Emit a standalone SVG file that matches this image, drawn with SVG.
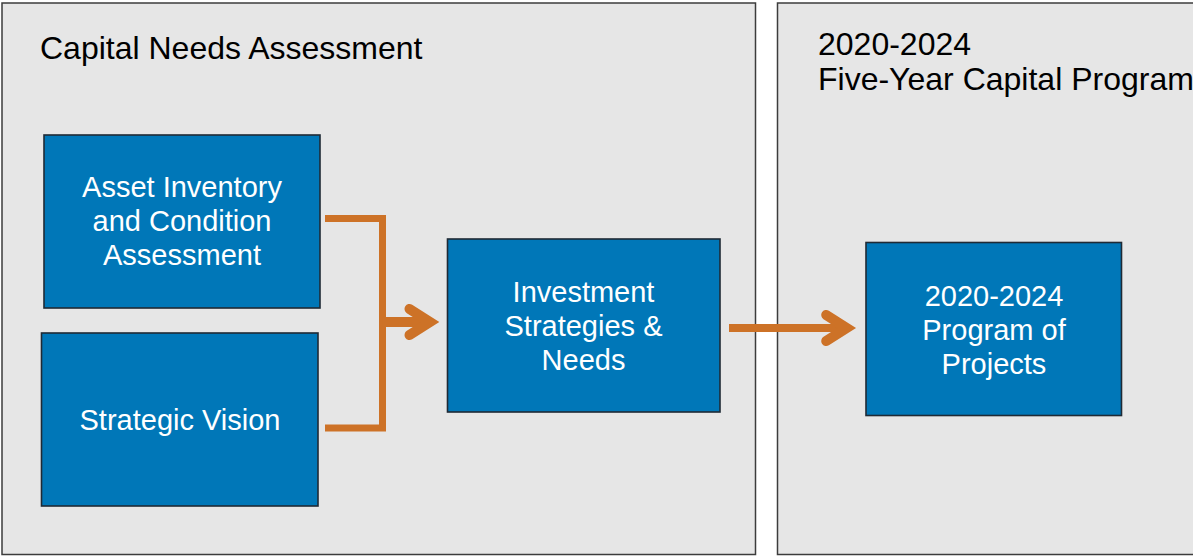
<svg xmlns="http://www.w3.org/2000/svg" width="1193" height="556" viewBox="0 0 1193 556">
  <style>
    .panel { fill: #e6e6e6; stroke: #3c3c3c; stroke-width: 1.5; }
    .box { fill: #0077b8; stroke: #1f2a35; stroke-width: 1.6; }
    .title { font-family: "Liberation Sans", Arial, sans-serif; font-size: 32px; fill: #000000; }
    .label { font-family: "Liberation Sans", Arial, sans-serif; font-size: 29px; fill: #ffffff; text-anchor: middle; }
    .conn { fill: none; stroke: #cd7227; stroke-linejoin: miter; }
  </style>
  <defs>
    <marker id="chev" markerUnits="userSpaceOnUse" orient="auto" refX="0" refY="0" markerWidth="60" markerHeight="60" overflow="visible">
      <path d="M-20.5,-13 L0,0 L-20.5,13" fill="none" stroke="#cd7227" stroke-width="10" stroke-linecap="round" stroke-linejoin="miter"/>
    </marker>
  </defs>
  <rect width="1193" height="556" fill="#ffffff"/>

  <g id="panel-cna">
    <rect class="panel" x="2" y="3" width="753.5" height="551.5"/>
    <text class="title" x="40" y="59">Capital Needs Assessment</text>
  </g>
  <g id="panel-cip">
    <rect class="panel" x="777.5" y="3" width="430" height="551.5"/>
    <text class="title" x="818" y="55">2020-2024</text>
    <text class="title" x="818" y="90">Five-Year Capital Program</text>
  </g>

  <g id="connectors">
    <path class="conn" d="M325,218.5 H382.5 V428 H325" stroke-width="7"/>
    <path class="conn" d="M382.5,322 H430" stroke-width="10" marker-end="url(#chev)"/>
    <path class="conn" d="M729,328 H846.7" stroke-width="8" marker-end="url(#chev)"/>
  </g>

  <g id="node-asset">
    <rect class="box" x="44" y="135" width="276" height="173"/>
    <text class="label" x="182" y="197">Asset Inventory</text>
    <text class="label" x="182" y="231">and Condition</text>
    <text class="label" x="182" y="265">Assessment</text>
  </g>
  <g id="node-vision">
    <rect class="box" x="41.5" y="333" width="276.5" height="173"/>
    <text class="label" x="180" y="429.5">Strategic Vision</text>
  </g>
  <g id="node-investment">
    <rect class="box" x="447.5" y="239" width="272.5" height="173"/>
    <text class="label" x="583.5" y="301.5">Investment</text>
    <text class="label" x="583.5" y="335.5">Strategies &amp;</text>
    <text class="label" x="583.5" y="369.5">Needs</text>
  </g>
  <g id="node-program">
    <rect class="box" x="866" y="242.5" width="255.5" height="173"/>
    <text class="label" x="994" y="305.5">2020-2024</text>
    <text class="label" x="994" y="339.5">Program of</text>
    <text class="label" x="994" y="373.5">Projects</text>
  </g>
</svg>
